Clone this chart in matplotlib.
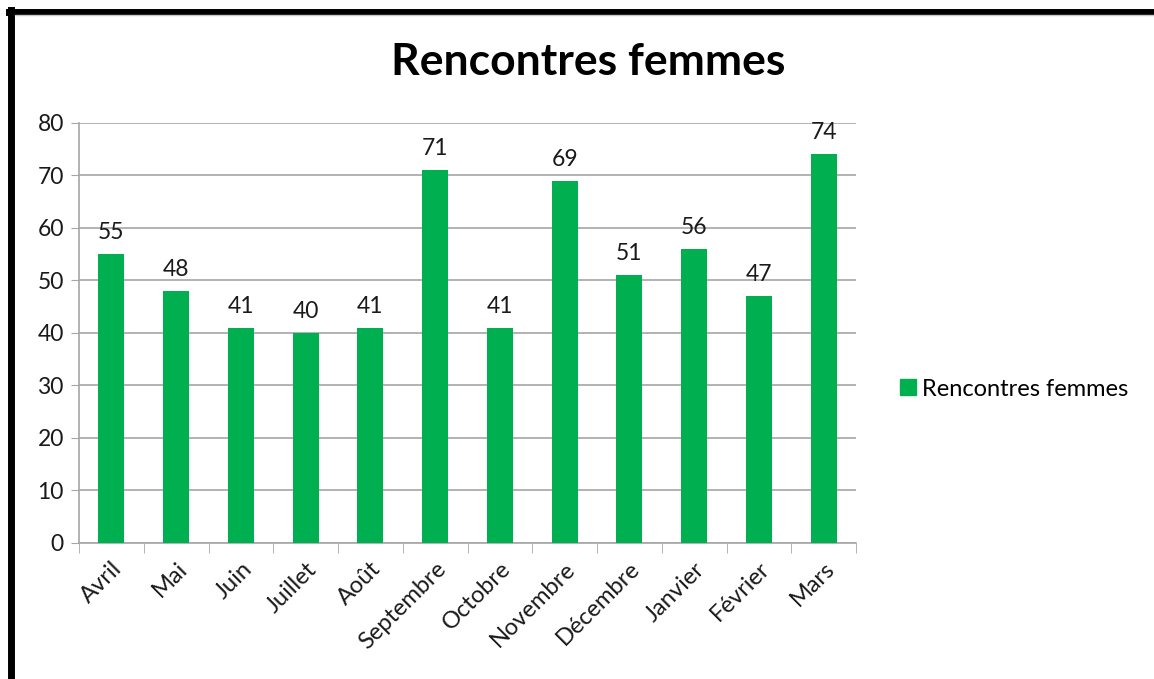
import matplotlib.pyplot as plt
from matplotlib.lines import Line2D

# ---------------------------------------------------------------------
# Data
# ---------------------------------------------------------------------
mois = ["Avril", "Mai", "Juin", "Juillet", "Août", "Septembre", "Octobre",
        "Novembre", "Décembre", "Janvier", "Février", "Mars"]
rencontres = [55, 48, 41, 40, 41, 71, 41, 69, 51, 56, 47, 74]
serie = "Rencontres femmes"
y_ticks = [0, 10, 20, 30, 40, 50, 60, 70, 80]

green = "#00B050"
grid_col = "#A6A6A6"

plt.rcParams["font.family"] = ["Lato", "DejaVu Sans"]

# ---------------------------------------------------------------------
# Plot
# ---------------------------------------------------------------------
fig = plt.figure(figsize=(11.54, 6.79), dpi=100)
ax = fig.add_axes([0.0685, 0.2003, 0.6733, 0.6186])

x = list(range(len(mois)))
bars = ax.bar(x, rencontres, width=0.4, color=green, zorder=3, label=serie)

for xi, v in zip(x, rencontres):
    ax.annotate(str(v), (xi, v), xytext=(0, 8), textcoords="offset points",
                ha="center", va="bottom", fontsize=16.5, color="#1a1a1a")

ax.set_xlim(-0.5, len(mois) - 0.5)
ax.set_ylim(0, 80)
ax.set_yticks(y_ticks)
ax.tick_params(axis="y", labelsize=16.5, length=6, color=grid_col, pad=5,
               labelcolor="#1a1a1a")
ax.yaxis.grid(True, color=grid_col, lw=1.2, zorder=0)

ax.set_xticks(x)
ax.set_xticklabels(mois, rotation=45, ha="right", rotation_mode="anchor",
                   fontsize=17, color="#1a1a1a")
ax.tick_params(axis="x", length=0, pad=11)
# category boundary ticks
ax.set_xticks([i - 0.5 for i in range(len(mois) + 1)], minor=True)
ax.tick_params(axis="x", which="minor", length=7, color=grid_col)

for s in ["top", "right"]:
    ax.spines[s].set_visible(False)
for s in ["left", "bottom"]:
    ax.spines[s].set_color(grid_col)
    ax.spines[s].set_linewidth(1.2)

fig.text(0.5095, 0.908, serie, ha="center", va="center", fontsize=32,
         fontweight="bold", color="black")

handle = Line2D([], [], marker="s", color=green, linestyle="none",
                markersize=11)
fig.legend([handle], [serie], loc="center left",
           bbox_to_anchor=(0.759, 0.427), frameon=False, fontsize=17,
           handletextpad=0.15, handlelength=0.9)

# frame lines around the picture
fig.add_artist(Line2D([0.0095, 0.0095], [0, 0.985], color="black", lw=5,
                      transform=fig.transFigure))
fig.add_artist(Line2D([0.0075, 1], [0.983, 0.983], color="black", lw=5,
                      transform=fig.transFigure))
fig.add_artist(Line2D([0.013, 1], [0.978, 0.978], color="#C8C8C8", lw=1,
                      transform=fig.transFigure))

fig.savefig("out.png", dpi=100)
